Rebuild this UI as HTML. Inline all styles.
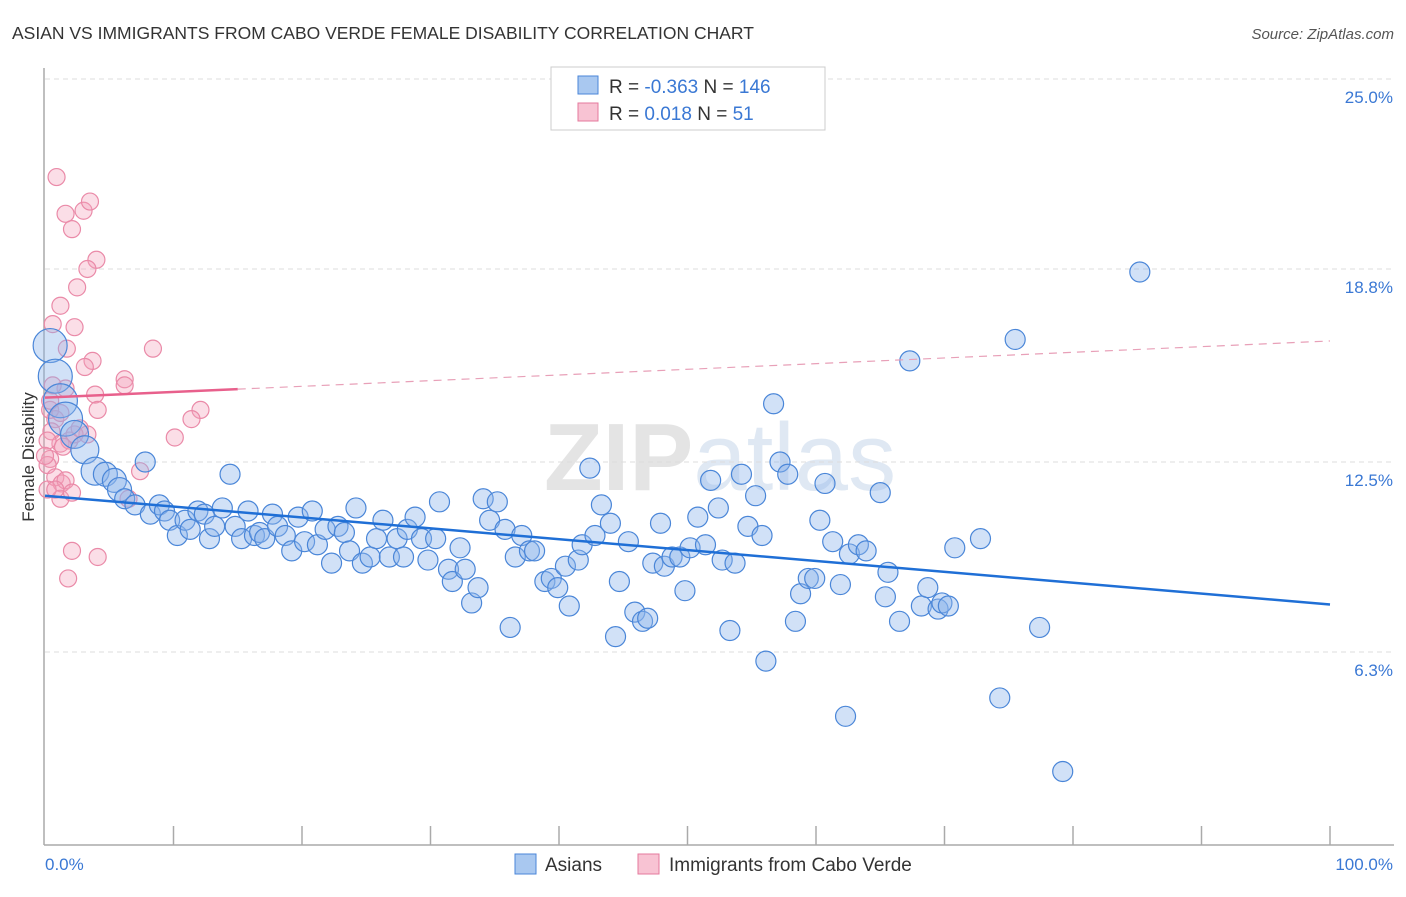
<!DOCTYPE html>
<html><head><meta charset="utf-8"><style>
body{margin:0;background:#fff;font-family:"Liberation Sans",sans-serif;}
svg text{font-family:"Liberation Sans",sans-serif;}
</style></head><body>
<svg id="chart" width="1406" height="892" xmlns="http://www.w3.org/2000/svg">
<text x="12" y="39" font-size="17.5" fill="#333">ASIAN VS IMMIGRANTS FROM CABO VERDE FEMALE DISABILITY CORRELATION CHART</text>
<text x="1394" y="39" font-size="15" fill="#555" text-anchor="end" font-style="italic">Source: ZipAtlas.com</text>
<text x="720" y="490" font-size="96" fill="#e4e4e4" text-anchor="middle" font-family="Liberation Serif" font-weight="bold">ZIP<tspan font-family="Liberation Sans" font-weight="normal" fill="#dfe8f3">atlas</tspan></text>
<g id="grid"></g>
<line x1="44" y1="68" x2="44" y2="845" stroke="#aaa" stroke-width="1.5"/>
<line x1="44" y1="845" x2="1394" y2="845" stroke="#aaa" stroke-width="1.5"/>
<g id="xticks"></g>
<text transform="translate(34,457) rotate(-90)" font-size="17" fill="#333" text-anchor="middle">Female Disability</text>
<text x="45" y="870" font-size="17" fill="#3a78d4">0.0%</text>
<text x="1393" y="870" font-size="17" fill="#3a78d4" text-anchor="end">100.0%</text>
<g id="pink"></g>
<g id="blue"></g>
<g id="lines"></g>
<g>
<rect x="551" y="67" width="274" height="63" fill="#fff" stroke="#ccc"/>
<rect x="578" y="76" width="20" height="18" fill="#a9c8f0" stroke="#4a86d8"/>
<rect x="578" y="103" width="20" height="18" fill="#f8c3d3" stroke="#e57a9c"/>
<text x="609" y="93" font-size="19" fill="#333">R = <tspan fill="#3a78d4">-0.363</tspan>   N = <tspan fill="#3a78d4">146</tspan></text>
<text x="609" y="120" font-size="19" fill="#333">R = <tspan fill="#3a78d4"> 0.018</tspan>   N = <tspan fill="#3a78d4">  51</tspan></text>
</g>
<g>
<rect x="515" y="854" width="21" height="20" fill="#a9c8f0" stroke="#4a86d8"/>
<text x="545" y="871" font-size="19" fill="#333">Asians</text>
<rect x="638" y="854" width="21" height="20" fill="#f8c3d3" stroke="#e57a9c"/>
<text x="669" y="871" font-size="19" fill="#333">Immigrants from Cabo Verde</text>
</g>
</svg>
<script>
const yTicks=[25.0,18.8,12.5,6.3];
const yTickLabels=["25.0%","18.8%","12.5%","6.3%"];
const blueX=[0.4,0.8,1.2,1.6,2.3,3.1,3.9,4.7,5.4,5.8,6.2,7.0,7.8,8.2,8.9,9.3,9.7,10.3,10.9,11.3,11.9,12.4,12.8,13.2,13.8,14.4,14.8,15.3,15.8,16.3,16.7,17.1,17.7,18.1,18.7,19.2,19.7,20.2,20.8,21.2,21.8,22.3,22.8,23.3,23.7,24.2,24.7,25.3,25.8,26.3,26.8,27.4,27.9,28.2,28.8,29.3,29.8,30.4,30.7,31.4,31.7,32.3,32.7,33.2,33.7,34.1,34.6,35.2,35.8,36.2,36.6,37.1,37.7,38.1,38.9,39.4,39.9,40.5,40.8,41.5,41.8,42.4,42.8,43.3,44.0,44.4,44.7,45.4,45.9,46.5,46.9,47.3,47.9,48.2,48.8,49.4,49.8,50.2,50.8,51.4,51.8,52.4,52.7,53.3,53.7,54.2,54.7,55.3,55.8,56.1,56.7,57.2,57.8,58.4,58.8,59.4,59.9,60.3,60.7,61.3,61.9,62.3,62.6,63.3,63.9,65.0,65.4,65.6,66.5,67.3,68.2,68.7,69.5,69.8,70.3,70.8,72.8,74.3,75.5,77.4,79.2,85.2];
const blueY=[16.3,15.3,14.5,13.9,13.4,12.9,12.2,12.1,11.9,11.6,11.3,11.1,12.5,10.8,11.1,10.9,10.6,10.1,10.6,10.3,10.9,10.8,10.0,10.4,11.0,12.1,10.4,10.0,10.9,10.1,10.2,10.0,10.8,10.4,10.1,9.6,10.7,9.9,10.9,9.8,10.3,9.2,10.4,10.2,9.6,11.0,9.2,9.4,10.0,10.6,9.4,10.0,9.4,10.3,10.7,10.0,9.3,10.0,11.2,9.0,8.6,9.7,9.0,7.9,8.4,11.3,10.6,11.2,10.3,7.1,9.4,10.1,9.6,9.6,8.6,8.7,8.4,9.1,7.8,9.3,9.8,12.3,10.1,11.1,10.5,6.8,8.6,9.9,7.6,7.3,7.4,9.2,10.5,9.1,9.4,9.4,8.3,9.7,10.7,9.8,11.9,11.0,9.3,7.0,9.2,12.1,10.4,11.4,10.1,6.0,14.4,12.5,12.1,7.3,8.2,8.7,8.7,10.6,11.8,9.9,8.5,4.2,9.5,9.8,9.6,11.5,8.1,8.9,7.3,15.8,7.8,8.4,7.7,7.9,7.8,9.7,10.0,4.8,16.5,7.1,2.4,18.7];
const pinkX=[0.9,1.6,3.0,3.5,2.1,4.0,3.3,2.5,1.2,0.6,2.3,1.7,3.7,3.1,1.6,0.6,3.9,4.1,8.4,6.2,6.2,12.1,11.4,10.1,0.8,0.5,1.2,1.9,3.3,0.4,0.2,0.8,1.3,1.6,1.2,2.1,6.5,7.4,2.1,4.1,1.8,0.4,1.2,0.4,0.2,0.2,0.8,1.4,2.3,2.7,0.0];
const pinkY=[21.8,20.6,20.7,21.0,20.1,19.1,18.8,18.2,17.6,17.0,16.9,16.2,15.8,15.6,14.9,15.0,14.7,14.2,16.2,15.2,15.0,14.2,13.9,13.3,13.9,13.5,13.1,13.2,13.4,12.6,12.4,12.0,11.8,11.9,11.3,11.5,11.3,12.2,9.6,9.4,8.7,14.2,14.1,14.5,13.2,11.6,11.6,13.0,13.4,13.6,12.7];
const blueTrend=[11.4,7.85];
const pinkTrend=[14.6,16.45];
const pinkSolidEnd=15;
const NS="http://www.w3.org/2000/svg";
const X0=45,X1=1330,YB=845,YK=30.64;
function xs(v){return X0+(X1-X0)*v/100;}
function ys(v){return YB-v*YK;}
function mk(tag,attrs,parent){const e=document.createElementNS(NS,tag);for(const k in attrs)e.setAttribute(k,attrs[k]);parent.appendChild(e);return e;}
const grid=document.getElementById('grid');
yTicks.forEach((t,i)=>{
  const l=mk('line',{x1:45,x2:1394,y1:ys(t),y2:ys(t),stroke:'#ddd','stroke-dasharray':'5,4'},grid);
  
  
  const tx=mk('text',{x:1393,y:ys(t)+24,'font-size':17,fill:'#3a78d4','text-anchor':'end'},grid);
  tx.textContent=yTickLabels[i];
  
  
});
const xt=document.getElementById('xticks');
for(let i=1;i<=10;i++){const px=X0+(X1-X0)*i/10;
  const l=mk('line',{x1:px,x2:px,y1:826,y2:845,stroke:'#aaa','stroke-width':1.5},xt);
  
  }
const pg=document.getElementById('pink');
pinkX.forEach((v,i)=>{
  const c=mk('circle',{cx:xs(v),cy:ys(pinkY[i]),r:8.5,fill:'rgba(244,160,185,0.35)',stroke:'#ea8aa8','stroke-width':1.2},pg);
  
  
});
const bg=document.getElementById('blue');
blueX.forEach((v,i)=>{
  const r=i<4?17:(i<7?14:(i<10?12:10));
  const c=mk('circle',{cx:xs(v),cy:ys(blueY[i]),r:r,fill:'rgba(140,180,235,0.4)',stroke:'#4a86d8','stroke-width':1.2},bg);
  
  
});
const lg=document.getElementById('lines');
const bl=mk('line',{x1:xs(0),y1:ys(blueTrend[0]),x2:xs(100),y2:ys(blueTrend[1]),stroke:'#1f6fd6','stroke-width':2.5},lg);


const pm=pinkTrend[0]+(pinkTrend[1]-pinkTrend[0])*pinkSolidEnd/100;
const pl=mk('line',{x1:xs(0),y1:ys(pinkTrend[0]),x2:xs(pinkSolidEnd),y2:ys(pm),stroke:'#e8608c','stroke-width':2.5},lg);


const pd=mk('line',{x1:xs(pinkSolidEnd),y1:ys(pm),x2:xs(100),y2:ys(pinkTrend[1]),stroke:'#e8a0b8','stroke-width':1.2,'stroke-dasharray':'8,6'},lg);


</script>
</body></html>
